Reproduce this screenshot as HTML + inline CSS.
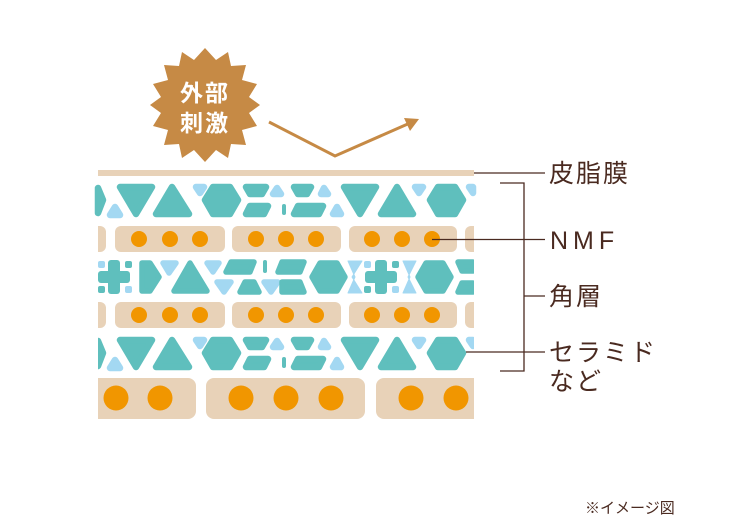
<!DOCTYPE html>
<html><head><meta charset="utf-8"><style>
html,body{margin:0;padding:0;background:#fff;}
svg{display:block;}
text{font-family:"Liberation Sans","Noto Sans CJK JP",sans-serif;}
</style></head><body>
<svg width="750" height="518" viewBox="0 0 750 518" xmlns="http://www.w3.org/2000/svg">
<defs>
<g id="rowA" stroke-linejoin="round" stroke-width="6.5">
 <polygon points="98,188 103,200 98,213" fill="#5fbfbd" stroke="#5fbfbd"/>
 <polygon points="110,215 115,207 120,215" fill="#a3d8f2" stroke="#a3d8f2"/>
 <polygon points="120,187 152,187 136,214" fill="#5fbfbd" stroke="#5fbfbd"/>
 <polygon points="156,214 172,187 189,214" fill="#5fbfbd" stroke="#5fbfbd"/>
 <polygon points="196,187 204,187 200,193" fill="#a3d8f2" stroke="#a3d8f2"/>
 <polygon points="205,200 213,187 230,187 238,200 230,214 213,214" fill="#5fbfbd" stroke="#5fbfbd"/>
 <polygon points="246,187 266,187 262,194 250,194" fill="#5fbfbd" stroke="#5fbfbd"/>
 <polygon points="250,206 268,206 264,214 246,214" fill="#5fbfbd" stroke="#5fbfbd"/>
 <polygon points="273,194 277,188 281,194" fill="#a3d8f2" stroke="#a3d8f2"/>
 <rect x="282" y="204" width="4" height="11" rx="2" fill="#5fbfbd"/>
 <polygon points="294,187 311,187 307,194 298,194" fill="#5fbfbd" stroke="#5fbfbd"/>
 <polygon points="298,206 323,206 319,214 294,214" fill="#5fbfbd" stroke="#5fbfbd"/>
 <polygon points="321,194 324,188 328,194" fill="#a3d8f2" stroke="#a3d8f2"/>
 <polygon points="333,214 337,207 341,214" fill="#a3d8f2" stroke="#a3d8f2"/>
 <polygon points="344,187 376,187 360,214" fill="#5fbfbd" stroke="#5fbfbd"/>
 <polygon points="381,214 397,187 413,214" fill="#5fbfbd" stroke="#5fbfbd"/>
 <polygon points="415,187 423,187 419,193" fill="#a3d8f2" stroke="#a3d8f2"/>
 <polygon points="430,200 438,187 455,187 463,200 455,214 438,214" fill="#5fbfbd" stroke="#5fbfbd"/>
 <polygon points="469,187 473,187 473,193" fill="#a3d8f2" stroke="#a3d8f2"/>
</g>
<g id="cross">
 <rect x="-6" y="-17" width="12" height="34" rx="3" fill="#5fbfbd"/>
 <rect x="-16" y="-6" width="32" height="12" rx="3" fill="#5fbfbd"/>
</g>
</defs>
<polygon fill="#c68a45" points="
260,105 249,113 257,126 242,130 246,145 231,144 228,158 216,150 205,162 194,150 182,158 179,144 164,145 168,130 153,126 161,113 150,105 161,97 153,84 168,80 164,65 179,66 182,52 194,60 205,48 216,60 228,52 231,66 246,65 242,80 257,84 249,97"/>
<text x="205" y="101" fill="#fff" font-size="23" font-weight="bold" text-anchor="middle" letter-spacing="2">外部</text>
<text x="205" y="131" fill="#fff" font-size="23" font-weight="bold" text-anchor="middle" letter-spacing="2">刺激</text>
<polyline points="269,122 335,156 410,123" fill="none" stroke="#c68a45" stroke-width="3"/>
<polygon points="419,119 404,118 410,131" fill="#c68a45"/>
<rect x="98" y="170" width="376" height="6" fill="#e8d2b8"/>
<use href="#rowA"/>
<use href="#rowA" y="153"/>
<g fill="#e8d2b8">
 <rect x="90" y="226" width="16" height="26" rx="6"/>
 <rect x="115" y="226" width="110" height="26" rx="6"/>
 <rect x="232" y="226" width="109" height="26" rx="6"/>
 <rect x="349" y="226" width="108" height="26" rx="6"/>
 <rect x="465" y="226" width="20" height="26" rx="6"/>
 <rect x="90" y="302" width="16" height="26" rx="6"/>
 <rect x="115" y="302" width="110" height="26" rx="6"/>
 <rect x="232" y="302" width="109" height="26" rx="6"/>
 <rect x="349" y="302" width="108" height="26" rx="6"/>
 <rect x="465" y="302" width="20" height="26" rx="6"/>
 <rect x="90" y="378" width="106" height="41" rx="8"/>
 <rect x="206" y="378" width="159" height="41" rx="8"/>
 <rect x="376" y="378" width="110" height="41" rx="8"/>
</g>
<g fill="#f19600">
 <circle cx="139" cy="239" r="8"/><circle cx="170" cy="239" r="8"/><circle cx="200" cy="239" r="8"/>
 <circle cx="256" cy="239" r="8"/><circle cx="286" cy="239" r="8"/><circle cx="316" cy="239" r="8"/>
 <circle cx="372" cy="239" r="8"/><circle cx="402" cy="239" r="8"/><circle cx="432" cy="239" r="8"/>
 <circle cx="139" cy="315" r="8"/><circle cx="170" cy="315" r="8"/><circle cx="200" cy="315" r="8"/>
 <circle cx="256" cy="315" r="8"/><circle cx="286" cy="315" r="8"/><circle cx="316" cy="315" r="8"/>
 <circle cx="372" cy="315" r="8"/><circle cx="402" cy="315" r="8"/><circle cx="432" cy="315" r="8"/>
 <circle cx="116" cy="398" r="12.5"/><circle cx="160" cy="398" r="12.5"/>
 <circle cx="241" cy="398" r="12.5"/><circle cx="286" cy="398" r="12.5"/><circle cx="331" cy="398" r="12.5"/>
 <circle cx="411" cy="398" r="12.5"/><circle cx="456" cy="398" r="12.5"/>
</g>
<rect x="474" y="220" width="22" height="210" fill="#fff"/>
<rect x="80" y="220" width="18" height="210" fill="#fff"/>
<g stroke-linejoin="round" stroke-width="5.5">
 <rect x="98" y="261" width="7" height="7" rx="2" fill="#a3d8f2"/>
 <rect x="125" y="261" width="7" height="7" rx="2" fill="#5fbfbd"/>
 <rect x="98" y="286" width="7" height="7" rx="2" fill="#5fbfbd"/>
 <rect x="125" y="286" width="7" height="7" rx="2" fill="#a3d8f2"/>
 <use href="#cross" x="114" y="277"/>
 <polygon points="142,263 150,263 159,277 150,291 142,291" fill="#5fbfbd" stroke="#5fbfbd"/>
 <polygon points="163,263 176,263 169,273" fill="#a3d8f2" stroke="#a3d8f2"/>
 <polygon points="174,291 190,263 207,291" fill="#5fbfbd" stroke="#5fbfbd"/>
 <polygon points="207,263 219,263 213,272" fill="#a3d8f2" stroke="#a3d8f2"/>
 <polygon points="217,282 231,282 224,292" fill="#a3d8f2" stroke="#a3d8f2"/>
 <polygon points="240,292 245,282 254,282 259,292" fill="#5fbfbd" stroke="#5fbfbd"/>
 <polygon points="264,282 278,282 271,292" fill="#a3d8f2" stroke="#a3d8f2"/>
 <polygon points="231,262 254,262 250,272 226,272" fill="#5fbfbd" stroke="#5fbfbd"/>
 <rect x="263" y="260" width="4" height="13" rx="2" fill="#5fbfbd"/>
 <polygon points="282,262 304,262 300,272 278,272" fill="#5fbfbd" stroke="#5fbfbd"/>
 <polygon points="282,282 300,282 304,292 282,292" fill="#5fbfbd" stroke="#5fbfbd"/>
 <polygon points="312,277 320,263 337,263 345,277 337,291 320,291" fill="#5fbfbd" stroke="#5fbfbd"/>
 <polygon points="348,261 362,261 352,277 362,293 348,293 355,277" fill="#a3d8f2" stroke="#a3d8f2" stroke-width="1"/>
 <rect x="364" y="261" width="7" height="7" rx="2" fill="#a3d8f2"/>
 <rect x="392" y="261" width="7" height="7" rx="2" fill="#5fbfbd"/>
 <rect x="364" y="286" width="7" height="7" rx="2" fill="#5fbfbd"/>
 <rect x="392" y="286" width="7" height="7" rx="2" fill="#a3d8f2"/>
 <use href="#cross" x="381" y="277"/>
 <polygon points="403,261 416,261 408,277 416,293 403,293 410,277" fill="#a3d8f2" stroke="#a3d8f2" stroke-width="1"/>
 <polygon points="418,277 426,263 443,263 451,277 443,291 426,291" fill="#5fbfbd" stroke="#5fbfbd"/>
 <polygon points="458,262 473,262 473,271 462,271" fill="#5fbfbd" stroke="#5fbfbd"/>
 <polygon points="462,283 473,283 473,292 458,292" fill="#5fbfbd" stroke="#5fbfbd"/>
</g>
<rect x="474" y="220" width="3" height="160" fill="#fff"/>
<g stroke="#4a2a20" stroke-width="1.3" fill="none">
 <line x1="474" y1="173" x2="545" y2="173"/>
 <line x1="432" y1="239.5" x2="545" y2="239.5"/>
 <polyline points="500,183 524,183 524,371 500,371"/>
 <line x1="524" y1="296" x2="545" y2="296"/>
 <line x1="466" y1="352" x2="545" y2="352"/>
</g>
<g fill="#4a2a20" font-size="25">
 <text x="549" y="182" letter-spacing="2">皮脂膜</text>
 <text x="550" y="249" letter-spacing="5">NMF</text>
 <text x="549" y="305" letter-spacing="2">角層</text>
 <text x="549" y="361" letter-spacing="2">セラミド</text>
 <text x="549" y="390" letter-spacing="2">など</text>
 <text x="585" y="513" font-size="15">※イメージ図</text>
</g>
</svg>
</body></html>
